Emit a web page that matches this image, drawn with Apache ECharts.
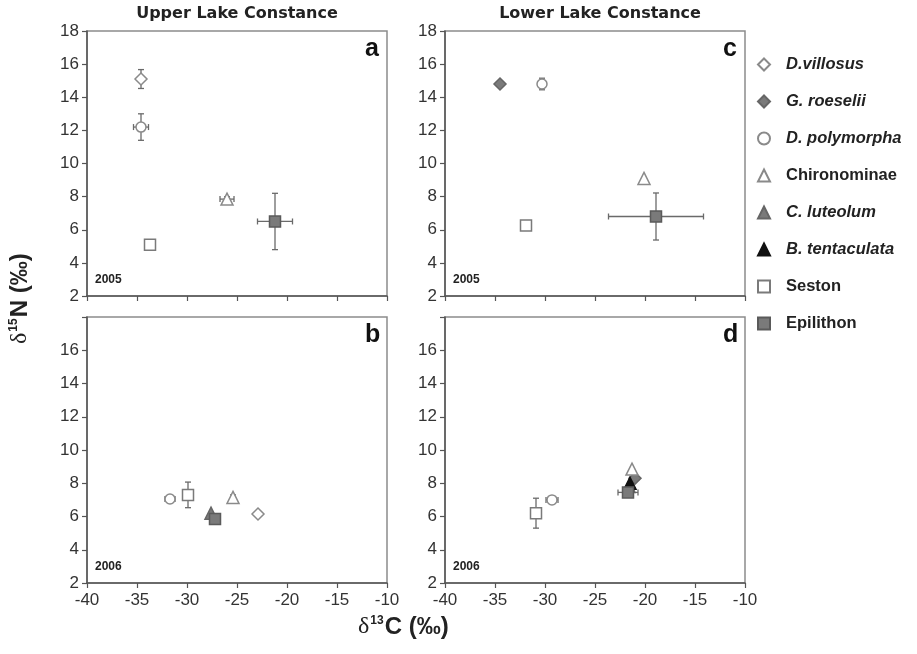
<!DOCTYPE html>
<html>
<head>
<meta charset="utf-8">
<script src="https://cdn.jsdelivr.net/npm/echarts@6/dist/echarts.min.js"></script>
<style>html,body{margin:0;padding:0;background:#fff}#c{width:917px;height:654px}</style>
</head>
<body>
<div id="c"></div>
<script>
// ---- data ----
const species = ['D.villosus','G. roeselii','D. polymorpha','Chironominae','C. luteolum','B. tentaculata','Seston','Epilithon'];
const italicNames = ['D.villosus','G. roeselii','D. polymorpha','C. luteolum','B. tentaculata'];
const xTicks = [-40,-35,-30,-25,-20,-15,-10];
const yTicks = [2,4,6,8,10,12,14,16,18];
const panelLetters = ['a','b','c','d'];
const panelYears = ['2005','2006','2005','2006'];
const lakeTitles = ['Upper Lake Constance','Lower Lake Constance'];

// panel a: Upper Lake Constance 2005  (order = species)
const aC13  = [-34.6, null, -34.6, -26.0, null, null, -33.7, -21.2];
const aN15  = [15.1,  null, 12.2,  7.85,  null, null, 5.1,   6.5];
const aSdC  = [0,     null, 0.75,  0.7,   null, null, 0,     1.75];
const aSdN  = [0.57,  null, 0.8,   0.15,  null, null, 0,     1.7];
// panel b: Upper Lake Constance 2006
const bC13  = [-22.9, null, -31.7, -25.4, -27.6, null, -29.9, -27.2];
const bN15  = [6.15,  null, 7.05,  7.15,  6.2,   null, 7.3,   5.85];
const bSdC  = [0,     null, 0.5,   0,     0,     null, 0.4,   0];
const bSdN  = [0,     null, 0,     0.15,  0,     null, 0.77,  0];
// panel c: Lower Lake Constance 2005
const cC13  = [null, -34.5, -30.3, -20.1, null, null, -31.9, -18.9];
const cN15  = [null, 14.8,  14.8,  9.1,   null, null, 6.25,  6.8];
const cSdC  = [null, 0,     0,     0,     null, null, 0,     4.75];
const cSdN  = [null, 0,     0.35,  0,     null, null, 0.15,  1.42];
// panel d: Lower Lake Constance 2006
const dC13  = [null, -21.0, -29.3, -21.3, -21.6, -21.5, -30.9, -21.7];
const dN15  = [null, 8.3,   7.0,   8.85,  7.8,   8.0,   6.2,   7.45];
const dSdC  = [null, 0,     0.6,   0,     0,     0,     0,     1.0];
const dSdN  = [null, 0,     0,     0,     0,     0,     0.9,   0];

const panels = [
  {c: aC13, n: aN15, sc: aSdC, sn: aSdN},
  {c: bC13, n: bN15, sc: bSdC, sn: bSdN},
  {c: cC13, n: cN15, sc: cSdC, sn: cSdN},
  {c: dC13, n: dN15, sc: dSdC, sn: dSdN}
];

// ---- styles ----
const sty = {
  'D.villosus':    {symbol:'diamond',  size:12, color:'#ffffff', border:'#8a8a8a'},
  'G. roeselii':   {symbol:'diamond',  size:12, color:'#7a7a7a', border:'#666666'},
  'D. polymorpha': {symbol:'circle',   size:10, color:'#ffffff', border:'#8a8a8a'},
  'Chironominae':  {symbol:'triangle', size:12, color:'#ffffff', border:'#8a8a8a'},
  'C. luteolum':   {symbol:'triangle', size:12, color:'#7a7a7a', border:'#666666'},
  'B. tentaculata':{symbol:'triangle', size:12, color:'#111111', border:'#111111'},
  'Seston':        {symbol:'rect',     size:11, color:'#ffffff', border:'#7a7a7a'},
  'Epilithon':     {symbol:'rect',     size:11, color:'#7a7a7a', border:'#5a5a5a'}
};
const gridPos = [
  {left:87, top:31, width:300, height:265},
  {left:87, top:317, width:300, height:266},
  {left:445, top:31, width:300, height:265},
  {left:445, top:317, width:300, height:266}
];
const tickFont = {fontFamily:'"Liberation Sans Narrow","Liberation Sans",Arial,sans-serif', fontSize:17, color:'#333'};

const grid = [], xAxis = [], yAxis = [], series = [], graphic = [];
gridPos.forEach((g, i) => {
  const isBottom = (i % 2 === 1);
  grid.push(Object.assign({show:true, borderColor:'#8c8c8c', borderWidth:1.5, backgroundColor:'#fff'}, g));
  xAxis.push({
    type:'value', gridIndex:i, min:xTicks[0], max:xTicks[xTicks.length-1], interval:5,
    splitLine:{show:false},
    axisLine:{show:true, onZero:false, lineStyle:{color:'#555', width:1.5}},
    axisTick:{show:true, length:5, lineStyle:{color:'#555', width:1.2}},
    axisLabel:Object.assign({show:isBottom, margin:9}, tickFont)
  });
  yAxis.push({
    type:'value', gridIndex:i, min:yTicks[0], max:yTicks[yTicks.length-1], interval:2,
    splitLine:{show:false},
    axisLine:{show:true, onZero:false, lineStyle:{color:'#555', width:1.5}},
    axisTick:{show:true, length:5, lineStyle:{color:'#555', width:1.2}},
    axisLabel:Object.assign({margin:8, formatter: v => (isBottom && v === 18) ? '' : String(v)}, tickFont)
  });
  const p = panels[i];
  const errData = [];
  species.forEach((name, k) => {
    if (p.c[k] === null) return;
    const s = sty[name];
    errData.push([p.c[k], p.n[k], p.sc[k], p.sn[k]]);
    series.push({
      type:'scatter', name:name, xAxisIndex:i, yAxisIndex:i, z:5,
      symbol:s.symbol, symbolSize:s.size,
      itemStyle:{color:s.color, borderColor:s.border, borderWidth:1.5, opacity:1},
      emphasis:{disabled:true},
      data:[[p.c[k], p.n[k]]]
    });
  });
  series.push({
    type:'custom', xAxisIndex:i, yAxisIndex:i, z:3, silent:true,
    encode:{x:0, y:1},
    renderItem:function(params, api){
      const x = api.value(0), y = api.value(1), ex = api.value(2), ey = api.value(3);
      const children = [];
      const st = {stroke:'#6a6a6a', lineWidth:1.3};
      const cap = 3;
      if (ey > 0) {
        const t = api.coord([x, y + ey]), b = api.coord([x, y - ey]);
        children.push({type:'line', shape:{x1:t[0], y1:t[1], x2:b[0], y2:b[1]}, style:st});
        children.push({type:'line', shape:{x1:t[0]-cap, y1:t[1], x2:t[0]+cap, y2:t[1]}, style:st});
        children.push({type:'line', shape:{x1:b[0]-cap, y1:b[1], x2:b[0]+cap, y2:b[1]}, style:st});
      }
      if (ex > 0) {
        const l = api.coord([x - ex, y]), r = api.coord([x + ex, y]);
        children.push({type:'line', shape:{x1:l[0], y1:l[1], x2:r[0], y2:r[1]}, style:st});
        children.push({type:'line', shape:{x1:l[0], y1:l[1]-cap, x2:l[0], y2:l[1]+cap}, style:st});
        children.push({type:'line', shape:{x1:r[0], y1:r[1]-cap, x2:r[0], y2:r[1]+cap}, style:st});
      }
      return {type:'group', children:children};
    },
    data: errData
  });
  // panel letter and year
  graphic.push({type:'text', left:g.left + g.width - 22, top:g.top + 6, z:10,
    style:{text:panelLetters[i], font:'bold 25px "Liberation Sans",Arial,sans-serif', fill:'#111'}});
  graphic.push({type:'text', left:g.left + 8, top:g.top + g.height - 22, z:10,
    style:{text:panelYears[i], font:'bold 12px "Liberation Sans",Arial,sans-serif', fill:'#222'}});
});

// lake titles
graphic.push({type:'text', x:237, y:6, z:10,
  style:{text:lakeTitles[0], textAlign:'center', font:'bold 16px "DejaVu Sans",sans-serif', fill:'#222'}});
graphic.push({type:'text', x:600, y:6, z:10,
  style:{text:lakeTitles[1], textAlign:'center', font:'bold 16px "DejaVu Sans",sans-serif', fill:'#222'}});

// axis titles
graphic.push({type:'text', x:8, y:344, rotation:Math.PI/2, z:10,
  style:{text:'{d|δ}{s|15}{b|N (‰)}', rich:{
    d:{font:'24px "Liberation Serif",serif', fill:'#222'},
    s:{font:'bold 12px "Liberation Sans",Arial,sans-serif', fill:'#222', verticalAlign:'top', padding:[0,1,9,1]},
    b:{font:'bold 24px "Liberation Sans Narrow","Liberation Sans",Arial,sans-serif', fill:'#222'}
  }}});
graphic.push({type:'text', x:358, y:615, z:10,
  style:{text:'{d|δ}{s|13}{b|C (‰)}', rich:{
    d:{font:'24px "Liberation Serif",serif', fill:'#222'},
    s:{font:'bold 12px "Liberation Sans",Arial,sans-serif', fill:'#222', verticalAlign:'top', padding:[0,1,9,1]},
    b:{font:'bold 24px "Liberation Sans Narrow","Liberation Sans",Arial,sans-serif', fill:'#222'}
  }}});

const chart = echarts.init(document.getElementById('c'), null, {renderer:'canvas'});
chart.setOption({
  animation:false,
  backgroundColor:'#fff',
  grid:grid, xAxis:xAxis, yAxis:yAxis, series:series, graphic:graphic,
  legend:{
    data:species, orient:'vertical', left:752, top:51, itemWidth:12, itemHeight:12, itemGap:20,
    selectedMode:false,
    formatter: n => italicNames.indexOf(n) >= 0 ? '{i|' + n + '}' : '{n|' + n + '}',
    textStyle:{rich:{
      i:{fontStyle:'italic', fontWeight:'bold', fontSize:16.5, fontFamily:'"Liberation Sans",Arial,sans-serif', color:'#222', padding:[0,0,0,11]},
      n:{fontWeight:'bold', fontSize:16.5, fontFamily:'"Liberation Sans",Arial,sans-serif', color:'#222', padding:[0,0,0,11]}
    }}
  }
});
</script>
</body>
</html>
